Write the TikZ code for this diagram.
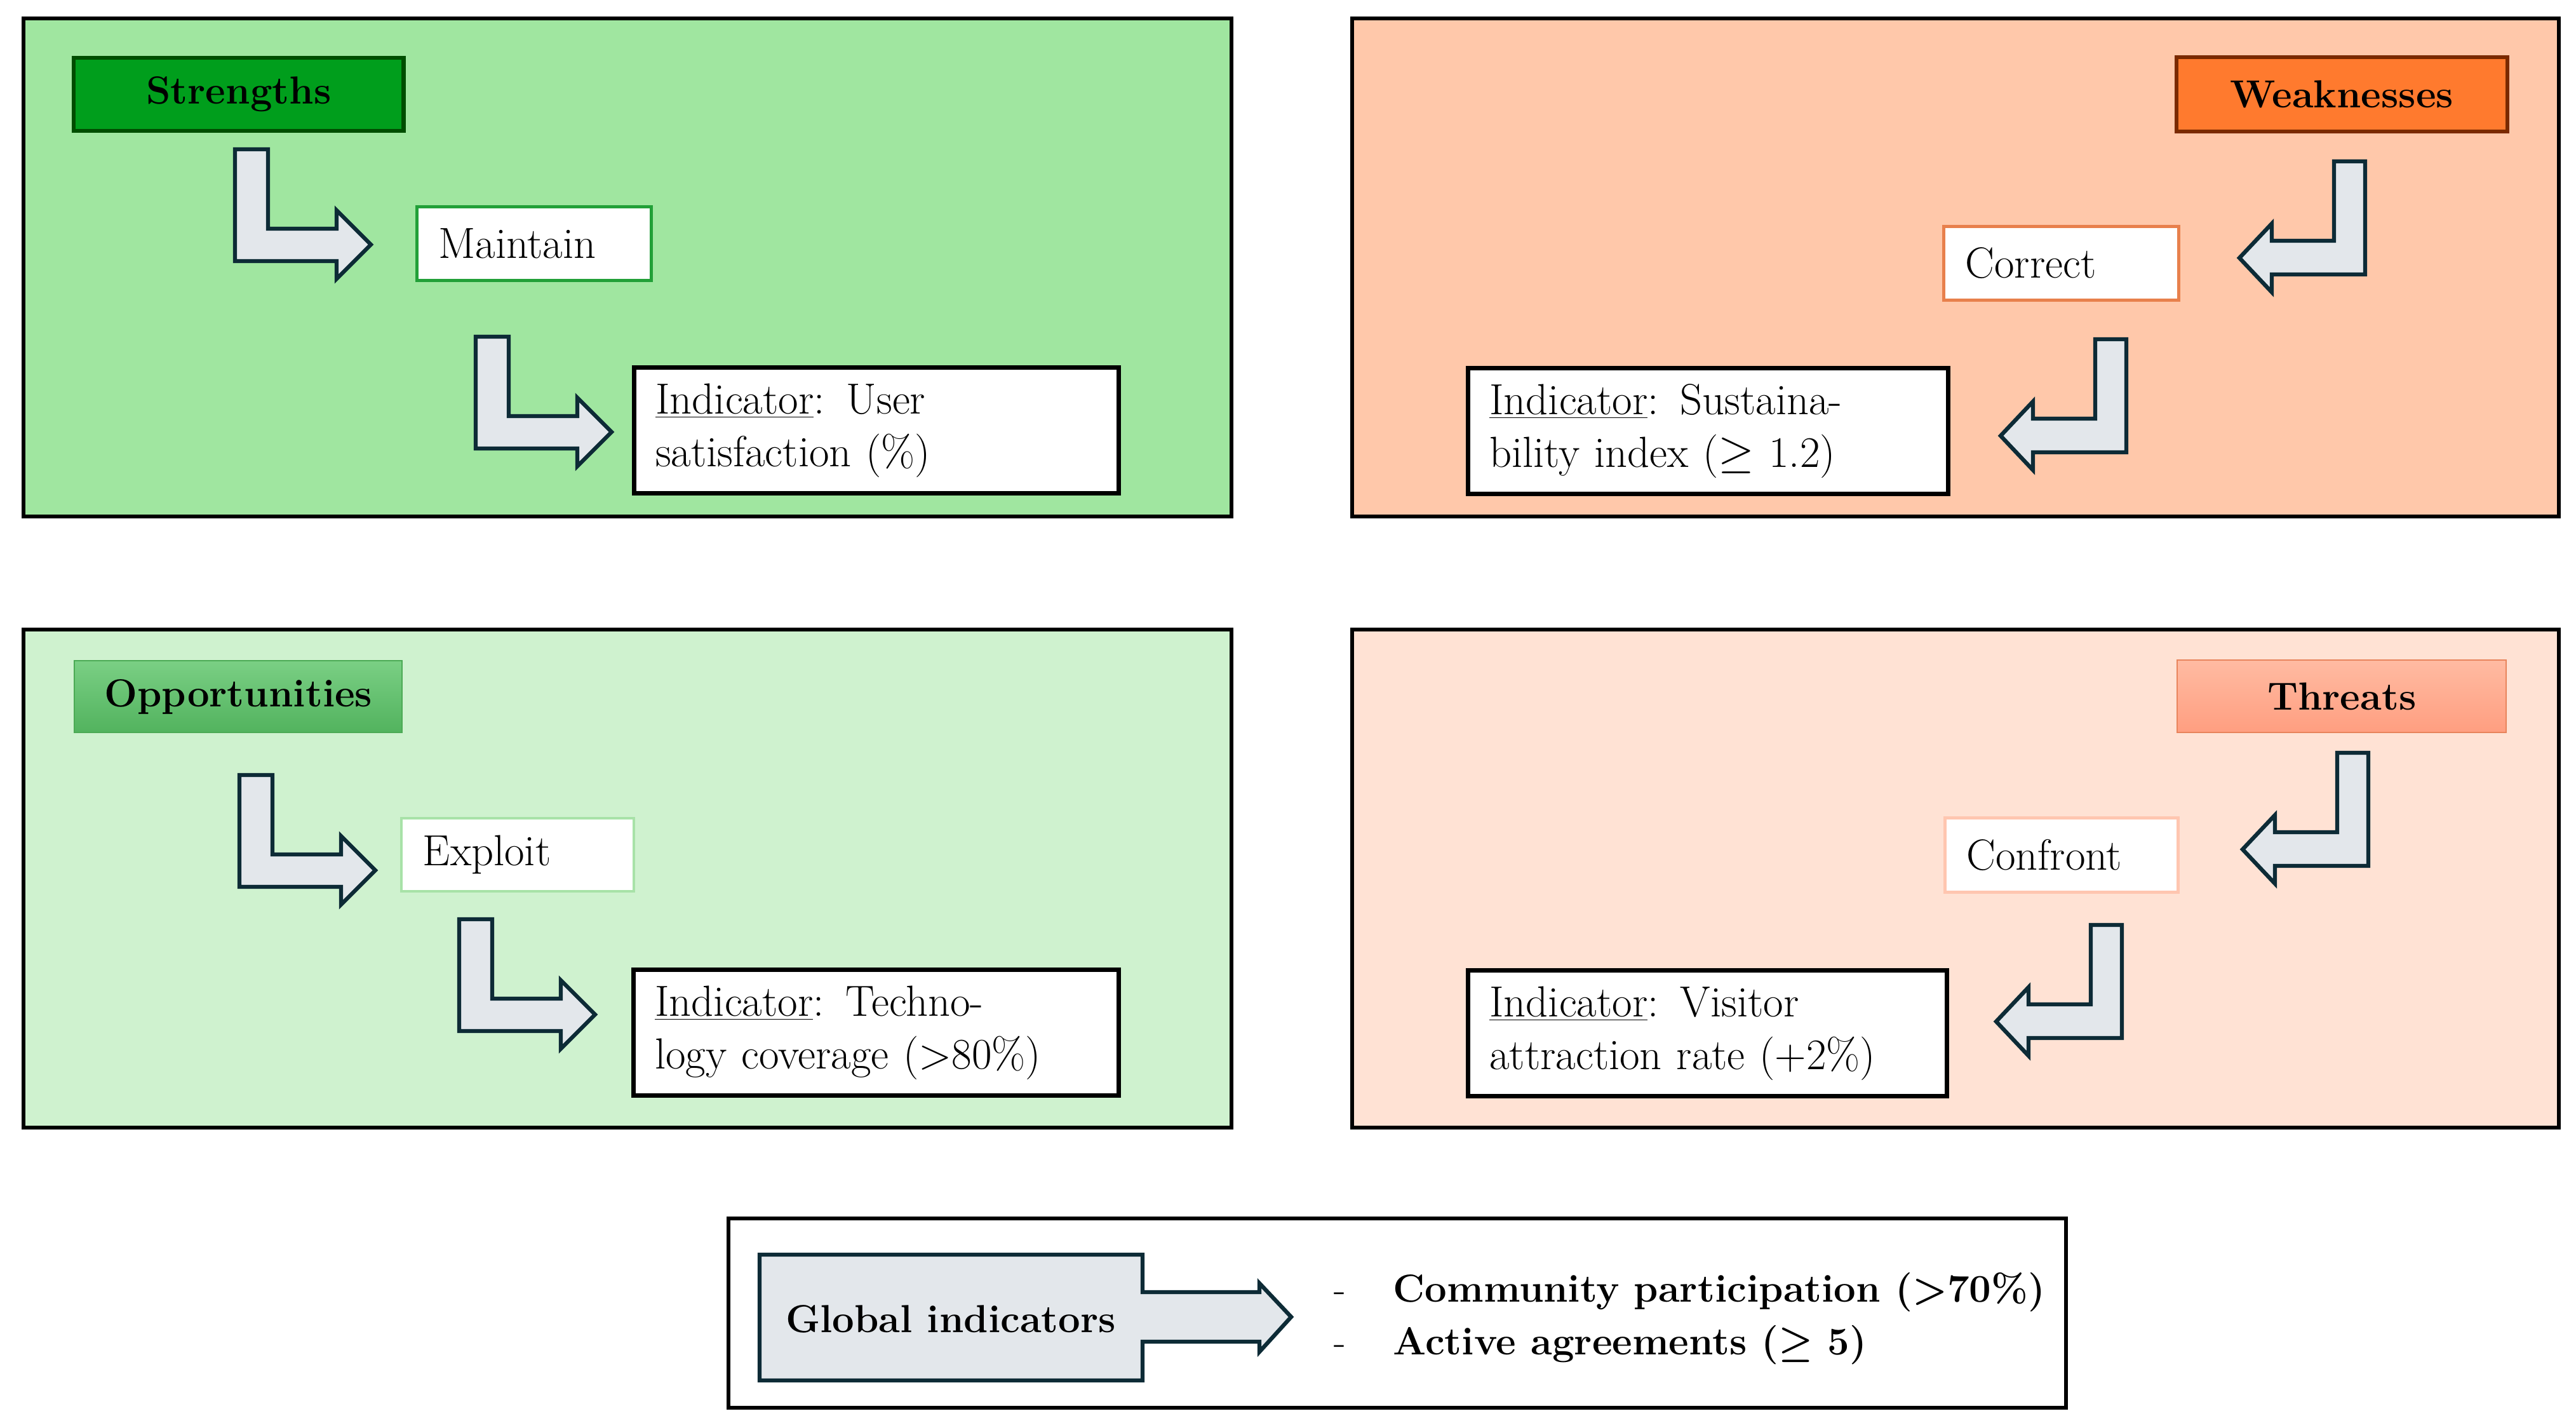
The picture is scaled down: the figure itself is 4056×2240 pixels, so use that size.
\documentclass[tikz,border=0pt]{standalone}
\usepackage{fontspec}
\definecolor{pS}{HTML}{A0E6A0}
\definecolor{pW}{HTML}{FFC8AA}
\definecolor{pO}{HTML}{CFF2CF}
\definecolor{pT}{HTML}{FFE2D4}
\definecolor{hSf}{HTML}{009E1C}
\definecolor{hSd}{HTML}{004D00}
\definecolor{hWf}{HTML}{FF7A2E}
\definecolor{hWd}{HTML}{7A2A00}
\definecolor{hOt}{HTML}{7ACF84}
\definecolor{hOb}{HTML}{52B35E}
\definecolor{hOd}{HTML}{4CAA55}
\definecolor{hTt}{HTML}{FFBBA2}
\definecolor{hTb}{HTML}{FF9E80}
\definecolor{hTd}{HTML}{E8845C}
\definecolor{cMaint}{HTML}{22A038}
\definecolor{cCorr}{HTML}{E8804C}
\definecolor{cExpl}{HTML}{A8E2A8}
\definecolor{cConf}{HTML}{FFC6B0}
\definecolor{arrowline}{HTML}{0D2B36}
\definecolor{arrowfill}{HTML}{E3E7EB}
\newcommand\myRarrow[1]{\draw[barrow] #1 -- ++(52,0) -- ++(0,125) -- ++(108,0) -- ++(0,-29) -- ++(54,54) -- ++(-54,54) -- ++(0,-28) -- ++(-160,0) -- cycle;}
\newcommand\myLarrow[1]{\draw[barrow] #1 -- ++(-49,0) -- ++(0,125) -- ++(-98,0) -- ++(0,-27) -- ++(-51,54) -- ++(51,54) -- ++(0,-28) -- ++(147,0) -- cycle;}
\begin{document}
\begin{tikzpicture}[x=0.01cm,y=-0.01cm,
  every node/.style={font=\fontsize{19.5}{23.6}\selectfont, inner sep=0pt},
  panel/.style={draw=black, line width=1.6pt, anchor=north west},
  hdr/.style={anchor=north west, font=\fontsize{17.5}{21}\selectfont\bfseries, align=center},
  act/.style={fill=white, line width=1.4pt, anchor=north west, inner xsep=0.34cm, align=left},
  ind/.style={draw=black, fill=white, line width=1.9pt, anchor=north west, inner xsep=0.34cm, align=left},
  barrow/.style={draw=arrowline, fill=arrowfill, line width=1.8pt, line join=miter},
  boldtxt/.style={font=\fontsize{17.5}{23.6}\selectfont\bfseries}
]
\fill[white] (0,0) rectangle (4056,2240);
\useasboundingbox (0,0) rectangle (4056,2240);

% panels
\node[panel, fill=pS, minimum width=19.01cm, minimum height=7.84cm] (panS) at (34,26) {};
\node[panel, fill=pW, minimum width=18.99cm, minimum height=7.84cm] (panW) at (2126,26) {};
\node[panel, fill=pO, minimum width=19.01cm, minimum height=7.84cm] (panO) at (34,988) {};
\node[panel, fill=pT, minimum width=18.99cm, minimum height=7.84cm] (panT) at (2126,988) {};

% headers
\node[hdr, fill=hSf, draw=hSd, line width=1.8pt, minimum width=5.19cm, minimum height=1.15cm] (hS) at (113,88) {Strengths};
\node[hdr, fill=hWf, draw=hWd, line width=1.6pt, minimum width=5.21cm, minimum height=1.17cm] (hW) at (3424,87) {Weaknesses};
\node[hdr, top color=hOt, bottom color=hOb, draw=hOd, line width=0.6pt, minimum width=5.16cm, minimum height=1.13cm] (hO) at (116,1039) {Opportunities};
\node[hdr, top color=hTt, bottom color=hTb, draw=hTd, line width=0.6pt, minimum width=5.18cm, minimum height=1.14cm] (hT) at (3427,1038) {Threats};

% action boxes
\node[act, draw=cMaint, minimum width=3.69cm, minimum height=1.16cm, text width=3.01cm] (maint) at (654,323) {Maintain};
\node[act, draw=cCorr, minimum width=3.70cm, minimum height=1.16cm, text width=3.02cm] (corr) at (3058,354) {Correct};
\node[act, draw=cExpl, line width=1.1pt, minimum width=3.66cm, minimum height=1.15cm, text width=2.98cm] (expl) at (630,1286) {Exploit};
\node[act, draw=cConf, minimum width=3.67cm, minimum height=1.17cm, text width=2.99cm] (conf) at (3060,1285) {Confront};

% indicator boxes
\node[ind, minimum width=7.63cm, minimum height=1.98cm, text width=6.95cm] (indS) at (995,575) {\underline{Indicator}: User\\satisfaction (\%)};
\node[ind, minimum width=7.56cm, minimum height=1.98cm, text width=6.88cm] (indW) at (2308,576) {\underline{Indicator}: Sustaina-\\bility index ($\geq$ 1.2)};
\node[ind, minimum width=7.64cm, minimum height=1.98cm, text width=6.96cm] (indO) at (994,1523) {\underline{Indicator}: Techno-\\logy coverage (>80\%)};
\node[ind, minimum width=7.54cm, minimum height=1.98cm, text width=6.86cm] (indT) at (2308,1524) {\underline{Indicator}: Visitor\\attraction rate (+2\%)};

% bent arrows
\myRarrow{(370,235)}
\myRarrow{(749,530)}
\myRarrow{(377,1220)}
\myRarrow{(723,1447)}
\myLarrow{(3724,254)}
\myLarrow{(3348,534)}
\myLarrow{(3729,1185)}
\myLarrow{(3341,1456)}

% global indicators
\node[panel, fill=white, minimum width=21.05cm, minimum height=2.98cm] (glob) at (1144,1915) {};
\draw[barrow] (1196,1975) -- (1799,1975) -- (1799,2034) -- (1983,2034) -- (1983,2020) -- (2033,2073)
  -- (1983,2128) -- (1983,2112) -- (1799,2112) -- (1799,2173) -- (1196,2173) -- cycle;
\node[boldtxt] (globtxt) at (1497,2076) {Global indicators};
\node[boldtxt, anchor=west, align=left] (glist) at (2100,2076)
  {\makebox[0.93cm][l]{\mdseries -}Community participation (>70\%)\\
   \makebox[0.93cm][l]{\mdseries -}Active agreements ({\boldmath$\geq$} 5)};
\end{tikzpicture}
\end{document}
